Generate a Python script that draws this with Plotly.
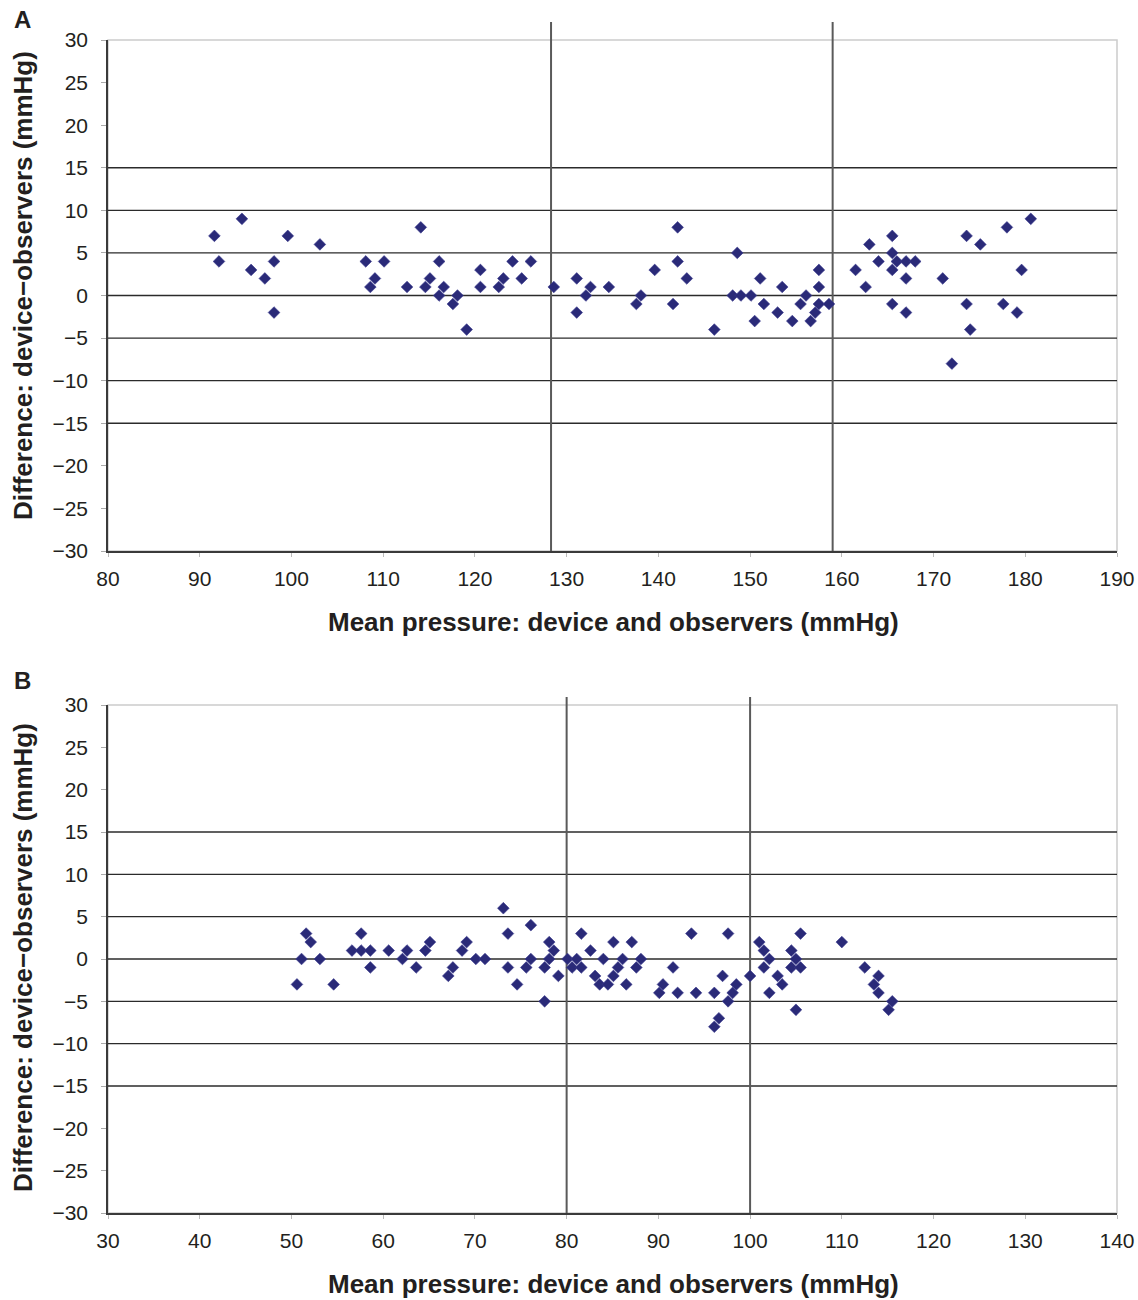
import plotly.graph_objects as go

# Panel A: systolic pressure, mean of device and observers vs. difference
a_mean = [91.6, 92.1, 94.6, 95.6, 97.1, 98.1, 98.1, 99.6, 103.1, 108.1, 108.6, 109.1,
          110.1, 112.6, 114.1, 114.6, 115.1, 116.1, 116.1, 116.6, 117.6, 118.1, 119.1,
          120.6, 120.6, 122.6, 123.1, 124.1, 125.1, 126.1, 128.6, 131.1, 131.1, 132.1,
          132.6, 134.6, 137.6, 138.1, 139.6, 141.6, 142.1, 142.1, 143.1, 146.1, 148.1,
          148.6, 149.0, 150.1, 150.5, 151.1, 151.5, 153.0, 153.5, 154.6, 155.5, 156.1,
          156.6, 157.1, 157.5, 157.5, 157.5, 158.6, 161.5, 162.6, 163.0, 164.0, 165.5,
          165.5, 165.5, 165.5, 166.0, 167.0, 167.0, 167.0, 168.0, 171.0, 172.0, 173.6,
          173.6, 174.0, 175.1, 177.6, 178.0, 179.1, 179.6, 180.6]
a_diff = [7, 4, 9, 3, 2, 4, -2, 7, 6, 4, 1, 2,
          4, 1, 8, 1, 2, 4, 0, 1, -1, 0, -4,
          3, 1, 1, 2, 4, 2, 4, 1, 2, -2, 0,
          1, 1, -1, 0, 3, -1, 8, 4, 2, -4, 0,
          5, 0, 0, -3, 2, -1, -2, 1, -3, -1, 0,
          -3, -2, 3, 1, -1, -1, 3, 1, 6, 4, 7,
          5, 3, -1, 4, 4, 2, -2, 4, 2, -8, 7,
          -1, -4, 6, -1, 8, -2, 3, 9]

# Panel B: diastolic pressure
b_mean = [50.6, 51.1, 51.6, 52.1, 53.1, 54.6, 56.6, 57.6, 57.6, 58.6, 58.6, 60.6,
          62.1, 62.6, 63.6, 64.6, 65.1, 67.1, 67.6, 68.6, 69.1, 70.1, 71.1, 73.1,
          73.6, 73.6, 74.6, 75.6, 76.1, 76.1, 77.6, 77.6, 78.1, 78.1, 78.6, 79.1,
          80.1, 80.6, 81.1, 81.6, 81.6, 82.6, 83.1, 83.6, 84.0, 84.5, 85.1, 85.1,
          85.6, 86.1, 86.5, 87.1, 87.6, 88.1, 90.1, 90.5, 91.6, 92.1, 93.6, 94.1,
          96.1, 96.1, 96.6, 97.0, 97.6, 97.6, 98.1, 98.5, 100.0, 101.0, 101.5, 101.5,
          102.1, 102.1, 103.0, 103.5, 104.5, 104.5, 105.0, 105.0, 105.5, 105.5, 110.0,
          112.5, 113.5, 114.0, 114.0, 115.1, 115.5]
b_diff = [-3, 0, 3, 2, 0, -3, 1, 3, 1, 1, -1, 1,
          0, 1, -1, 1, 2, -2, -1, 1, 2, 0, 0, 6,
          3, -1, -3, -1, 4, 0, -1, -5, 2, 0, 1, -2,
          0, -1, 0, 3, -1, 1, -2, -3, 0, -3, 2, -2,
          -1, 0, -3, 2, -1, 0, -4, -3, -1, -4, 3, -4,
          -4, -8, -7, -2, 3, -5, -4, -3, -2, 2, 1, -1,
          0, -4, -2, -3, 1, -1, 0, -6, 3, -1, 2,
          -1, -3, -2, -4, -6, -5]

a_range = [80, 190]
b_range = [30, 140]
y_range = [-30, 30]
y_ticks = list(range(-30, 31, 5))
grid_levels = [-15, -10, -5, 0, 5, 10, 15]
a_ref_lines = [128.3, 159.0]
b_ref_lines = [80, 100]

x_title = "Mean pressure: device and observers (mmHg)"
y_title = "Difference: device\u2212observers (mmHg)"

W, H = 1138, 1300
ML, MR, MT, MB = 108, 21, 40, 87
PW, PH = W - ML - MR, H - MT - MB


def py(px_y):
    return (H - MB - px_y) / PH


def px(px_x):
    return (px_x - ML) / PW


marker = dict(symbol="diamond", size=9, color="#2a2a78",
              line=dict(width=0.6, color="#3b3b8e"))

fig = go.Figure()
fig.add_trace(go.Scatter(x=a_mean, y=a_diff, mode="markers", marker=marker,
                         xaxis="x", yaxis="y", showlegend=False, cliponaxis=False))
fig.add_trace(go.Scatter(x=b_mean, y=b_diff, mode="markers", marker=marker,
                         xaxis="x2", yaxis="y2", showlegend=False, cliponaxis=False))

tick_font = dict(family="Liberation Sans, Arial, sans-serif", size=21, color="#231f20")

common_x = dict(showgrid=False, zeroline=False, showline=True, linecolor="#3a3a3a",
                linewidth=1.5, ticks="outside", ticklen=4, tickcolor="#bbbbbb",
                tickfont=tick_font, ticklabelstandoff=4, ticklabeloverflow="allow",
                automargin=False, fixedrange=True)
common_y = dict(showgrid=False, zeroline=False, showline=True, linecolor="#3a3a3a",
                linewidth=1.5, ticks="outside", ticklen=5, tickcolor="#aaaaaa",
                tickfont=tick_font, tickvals=y_ticks, range=y_range,
                ticklabelstandoff=9, automargin=False, fixedrange=True)

dom_a = [py(551), 1.0]
dom_b = [0.0, py(705)]

shapes = []
panels = (("x", "y", a_ref_lines, a_range, dom_a, py(22)),
          ("x2", "y2", b_ref_lines, b_range, dom_b, py(697)))
for xa, ya, lines, xr, dom, line_top in panels:
    # light frame on the top and right edges
    shapes.append(dict(type="rect", xref=f"{xa} domain", yref=f"{ya} domain",
                       x0=0, x1=1, y0=0, y1=1, line=dict(color="#cccccc", width=1.5),
                       layer="below"))
    for g in grid_levels:
        shapes.append(dict(type="line", xref=f"{xa} domain", yref=ya, x0=0, x1=1,
                           y0=g, y1=g, line=dict(color="#2b2b2b", width=1.4),
                           layer="below"))
    # reference lines, running a little above the plotting area
    for v in lines:
        f = (v - xr[0]) / (xr[1] - xr[0])
        shapes.append(dict(type="line", xref="paper", yref="paper", x0=f, x1=f,
                           y0=dom[0], y1=line_top,
                           line=dict(color="#5a5a5a", width=2), layer="below"))

title_font = dict(family="Liberation Sans, Arial, sans-serif", size=26, color="#231f20")
label_font = dict(family="Liberation Sans, Arial, sans-serif", size=24, color="#231f20")

annotations = [
    dict(text=f"<b>{x_title}</b>", xref="paper", yref="paper", x=px(613), y=py(622),
         showarrow=False, font=title_font, xanchor="center", yanchor="middle"),
    dict(text=f"<b>{x_title}</b>", xref="paper", yref="paper", x=px(613), y=py(1284),
         showarrow=False, font=title_font, xanchor="center", yanchor="middle"),
    dict(text=f"<b>{y_title}</b>", xref="paper", yref="paper", x=px(23), y=py(286),
         showarrow=False, font=title_font, textangle=-90, xanchor="center", yanchor="middle"),
    dict(text=f"<b>{y_title}</b>", xref="paper", yref="paper", x=px(23), y=py(958),
         showarrow=False, font=title_font, textangle=-90, xanchor="center", yanchor="middle"),
    dict(text="<b>A</b>", xref="paper", yref="paper", x=px(22), y=py(19),
         showarrow=False, font=label_font, xanchor="center", yanchor="middle"),
    dict(text="<b>B</b>", xref="paper", yref="paper", x=px(22), y=py(680),
         showarrow=False, font=label_font, xanchor="center", yanchor="middle"),
]

fig.update_layout(
    width=W, height=H,
    margin=dict(l=ML, r=MR, t=MT, b=MB, autoexpand=False),
    paper_bgcolor="white", plot_bgcolor="white",
    xaxis=dict(common_x, range=a_range, tickvals=list(range(a_range[0], a_range[1] + 1, 10)),
               anchor="y", domain=[0, 1]),
    yaxis=dict(common_y, domain=dom_a, anchor="x"),
    xaxis2=dict(common_x, range=b_range, tickvals=list(range(b_range[0], b_range[1] + 1, 10)),
                anchor="y2", domain=[0, 1]),
    yaxis2=dict(common_y, domain=dom_b, anchor="x2"),
    shapes=shapes,
    annotations=annotations,
)

fig.write_html("out.html")
